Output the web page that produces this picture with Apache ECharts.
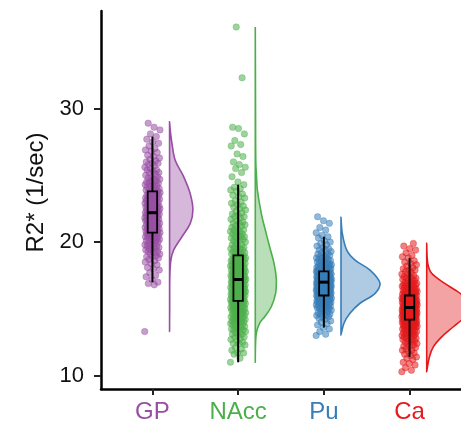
<!DOCTYPE html>
<html>
<head>
<meta charset="utf-8">
<script src="https://cdn.jsdelivr.net/npm/echarts@6/dist/echarts.min.js"></script>
<style>
html, body { margin: 0; padding: 0; background: #fff; }
#main { width: 461px; height: 427px; }
</style>
</head>
<body>
<div id="main"></div>
<script>
// regions on the x axis
const regions = ['GP', 'NAcc', 'Pu', 'Ca'];
const yTicks = [10, 20, 30];

// individual R2* values (1/sec) per region
const gpPoints = [
  13.3, 16.8, 16.9, 17.0, 17.2, 17.4, 17.5, 17.7, 17.9, 18.0, 18.1, 18.3, 18.4,
  18.5, 18.6, 18.7, 18.8, 18.9, 18.9, 19.0, 19.1, 19.1, 19.2, 19.3, 19.3, 19.4, 19.4,
  19.5, 19.5, 19.6, 19.6, 19.7, 19.7, 19.8, 19.8, 19.9, 19.9,
  20.0, 20.0, 20.1, 20.1, 20.2, 20.2, 20.2, 20.3, 20.3, 20.4, 20.4, 20.4,
  20.5, 20.5, 20.5, 20.6, 20.6, 20.6, 20.7, 20.7, 20.7, 20.8, 20.8, 20.8, 20.9, 20.9,
  21.0, 21.0, 21.0, 21.1, 21.1, 21.1, 21.2, 21.2, 21.2, 21.3, 21.3, 21.3, 21.4, 21.4, 21.4,
  21.5, 21.5, 21.5, 21.6, 21.6, 21.6, 21.7, 21.7, 21.7, 21.7, 21.8, 21.8, 21.8, 21.9, 21.9, 21.9,
  22.0, 22.0, 22.0, 22.1, 22.1, 22.1, 22.2, 22.2, 22.2, 22.2, 22.3, 22.3, 22.3, 22.4, 22.4, 22.4,
  22.5, 22.5, 22.5, 22.6, 22.6, 22.6, 22.7, 22.7, 22.7, 22.8, 22.8, 22.8, 22.9, 22.9, 22.9,
  23.0, 23.0, 23.0, 23.1, 23.1, 23.1, 23.2, 23.2, 23.2, 23.3, 23.3, 23.3, 23.4, 23.4,
  23.5, 23.5, 23.5, 23.6, 23.6, 23.7, 23.7, 23.7, 23.8, 23.8, 23.9, 23.9,
  24.0, 24.0, 24.1, 24.1, 24.2, 24.2, 24.3, 24.3, 24.4, 24.4,
  24.5, 24.5, 24.6, 24.6, 24.7, 24.7, 24.8, 24.9, 24.9,
  25.0, 25.1, 25.2, 25.2, 25.3, 25.4, 25.4, 25.5, 25.6, 25.7, 25.8, 25.9, 25.9,
  26.0, 26.1, 26.2, 26.3, 26.4, 26.5, 26.7, 26.8, 26.9,
  27.0, 27.2, 27.4, 27.5, 27.7, 27.9, 28.1, 28.4, 28.6, 28.9
];
const naccPoints = [
  11.0, 11.3, 11.6, 11.7, 11.7, 11.9, 12.0, 12.1, 12.3, 12.4, 12.4,
  12.5, 12.6, 12.7, 12.8, 12.9, 12.9, 13.0, 13.1, 13.1, 13.2, 13.3, 13.3, 13.4, 13.4,
  13.5, 13.5, 13.6, 13.6, 13.7, 13.7, 13.8, 13.8, 13.9, 13.9,
  14.0, 14.0, 14.0, 14.1, 14.1, 14.1, 14.2, 14.2, 14.2, 14.3, 14.3, 14.4, 14.4,
  14.5, 14.5, 14.5, 14.6, 14.6, 14.6, 14.7, 14.7, 14.7, 14.8, 14.8, 14.8, 14.9, 14.9, 14.9,
  15.0, 15.0, 15.0, 15.1, 15.1, 15.1, 15.2, 15.2, 15.2, 15.2, 15.3, 15.3, 15.3, 15.4, 15.4, 15.4,
  15.5, 15.5, 15.5, 15.5, 15.6, 15.6, 15.6, 15.6, 15.7, 15.7, 15.7, 15.8, 15.8, 15.8, 15.8, 15.9, 15.9, 15.9,
  16.0, 16.0, 16.0, 16.0, 16.1, 16.1, 16.1, 16.1, 16.2, 16.2, 16.2, 16.2, 16.3, 16.3, 16.3, 16.3, 16.4, 16.4, 16.4,
  16.5, 16.5, 16.5, 16.5, 16.6, 16.6, 16.6, 16.6, 16.7, 16.7, 16.7, 16.7, 16.8, 16.8, 16.8, 16.8, 16.9, 16.9, 16.9,
  17.0, 17.0, 17.0, 17.0, 17.1, 17.1, 17.1, 17.1, 17.2, 17.2, 17.2, 17.2, 17.3, 17.3, 17.3, 17.3, 17.4, 17.4, 17.4,
  17.5, 17.5, 17.5, 17.5, 17.6, 17.6, 17.6, 17.6, 17.7, 17.7, 17.7, 17.8, 17.8, 17.8, 17.8, 17.9, 17.9, 17.9,
  18.0, 18.0, 18.0, 18.1, 18.1, 18.1, 18.2, 18.2, 18.2, 18.2, 18.3, 18.3, 18.3, 18.4, 18.4, 18.4,
  18.5, 18.5, 18.5, 18.6, 18.6, 18.6, 18.7, 18.7, 18.7, 18.8, 18.8, 18.8, 18.9, 18.9,
  19.0, 19.0, 19.1, 19.1, 19.2, 19.2, 19.3, 19.3, 19.4, 19.4,
  19.5, 19.5, 19.6, 19.6, 19.7, 19.8, 19.8, 19.9,
  20.0, 20.1, 20.1, 20.2, 20.2, 20.3, 20.4, 20.4, 20.4,
  20.5, 20.6, 20.6, 20.7, 20.8, 20.8, 20.9, 20.9,
  21.0, 21.1, 21.2, 21.2, 21.3, 21.4, 21.4, 21.5, 21.6, 21.7, 21.8, 21.9, 21.9,
  22.0, 22.1, 22.2, 22.3, 22.4, 22.5, 22.6, 22.7, 22.8, 22.9,
  23.0, 23.1, 23.3, 23.4, 23.5, 23.6, 23.8, 23.9, 24.0, 24.1, 24.3,
  24.5, 24.9, 25.2, 25.5, 25.6, 25.8, 26.0, 26.4, 26.6, 27.2, 27.3, 27.6,
  28.1, 28.5, 28.6, 32.3, 36.1
];
const puPoints = [
  13.0, 13.1, 13.3, 13.5, 13.6, 13.8, 13.9, 14.0, 14.1, 14.2, 14.3, 14.4, 14.4,
  14.5, 14.5, 14.6, 14.6, 14.7, 14.7, 14.8, 14.8, 14.9, 14.9,
  15.0, 15.0, 15.0, 15.1, 15.1, 15.1, 15.2, 15.2, 15.2, 15.2, 15.3, 15.3, 15.3, 15.4, 15.4, 15.4,
  15.5, 15.5, 15.5, 15.5, 15.5, 15.6, 15.6, 15.6, 15.6, 15.6, 15.7, 15.7, 15.7, 15.7, 15.7,
  15.8, 15.8, 15.8, 15.8, 15.8, 15.9, 15.9, 15.9, 15.9,
  16.0, 16.0, 16.0, 16.0, 16.0, 16.0, 16.1, 16.1, 16.1, 16.1, 16.1, 16.1,
  16.2, 16.2, 16.2, 16.2, 16.2, 16.2, 16.3, 16.3, 16.3, 16.3, 16.3, 16.3,
  16.4, 16.4, 16.4, 16.4, 16.4, 16.4,
  16.5, 16.5, 16.5, 16.5, 16.5, 16.5, 16.5, 16.6, 16.6, 16.6, 16.6, 16.6, 16.6, 16.6,
  16.7, 16.7, 16.7, 16.7, 16.7, 16.7, 16.7, 16.8, 16.8, 16.8, 16.8, 16.8, 16.8, 16.8,
  16.9, 16.9, 16.9, 16.9, 16.9, 16.9,
  17.0, 17.0, 17.0, 17.0, 17.0, 17.0, 17.0, 17.1, 17.1, 17.1, 17.1, 17.1, 17.1, 17.1,
  17.2, 17.2, 17.2, 17.2, 17.2, 17.2, 17.3, 17.3, 17.3, 17.3, 17.3, 17.3,
  17.4, 17.4, 17.4, 17.4, 17.4, 17.4,
  17.5, 17.5, 17.5, 17.5, 17.5, 17.5, 17.6, 17.6, 17.6, 17.6, 17.6,
  17.7, 17.7, 17.7, 17.7, 17.7, 17.8, 17.8, 17.8, 17.8, 17.8, 17.9, 17.9, 17.9, 17.9, 17.9,
  18.0, 18.0, 18.0, 18.0, 18.1, 18.1, 18.1, 18.1, 18.2, 18.2, 18.2, 18.2, 18.3, 18.3, 18.3, 18.4, 18.4, 18.4,
  18.5, 18.5, 18.5, 18.6, 18.6, 18.6, 18.7, 18.7, 18.8, 18.8, 18.9, 18.9,
  19.0, 19.0, 19.1, 19.1, 19.2, 19.3, 19.4, 19.4, 19.5, 19.6, 19.7, 19.8, 19.9,
  20.0, 20.1, 20.3, 20.4, 20.5, 20.7, 20.9, 21.1, 21.4, 21.6, 21.9
];
const caPoints = [
  10.3, 10.4, 10.6, 10.8, 10.9, 11.0, 11.2, 11.3, 11.4,
  11.5, 11.6, 11.7, 11.8, 11.9, 11.9, 12.0, 12.1, 12.2, 12.2, 12.3, 12.4, 12.4,
  12.5, 12.5, 12.6, 12.6, 12.7, 12.7, 12.8, 12.8, 12.9, 12.9,
  13.0, 13.0, 13.0, 13.1, 13.1, 13.1, 13.2, 13.2, 13.2, 13.3, 13.3, 13.3, 13.4, 13.4,
  13.5, 13.5, 13.5, 13.5, 13.6, 13.6, 13.6, 13.6, 13.7, 13.7, 13.7, 13.7,
  13.8, 13.8, 13.8, 13.8, 13.9, 13.9, 13.9, 13.9,
  14.0, 14.0, 14.0, 14.0, 14.0, 14.0, 14.1, 14.1, 14.1, 14.1, 14.1, 14.1,
  14.2, 14.2, 14.2, 14.2, 14.2, 14.2, 14.3, 14.3, 14.3, 14.3, 14.3, 14.4, 14.4, 14.4, 14.4, 14.4,
  14.5, 14.5, 14.5, 14.5, 14.5, 14.5, 14.5, 14.6, 14.6, 14.6, 14.6, 14.6, 14.6,
  14.7, 14.7, 14.7, 14.7, 14.7, 14.7, 14.8, 14.8, 14.8, 14.8, 14.8, 14.8,
  14.9, 14.9, 14.9, 14.9, 14.9, 14.9,
  15.0, 15.0, 15.0, 15.0, 15.0, 15.0, 15.0, 15.1, 15.1, 15.1, 15.1, 15.1, 15.1,
  15.2, 15.2, 15.2, 15.2, 15.2, 15.2, 15.3, 15.3, 15.3, 15.3, 15.3, 15.3,
  15.4, 15.4, 15.4, 15.4, 15.4, 15.4,
  15.5, 15.5, 15.5, 15.5, 15.5, 15.5, 15.6, 15.6, 15.6, 15.6, 15.6, 15.6,
  15.7, 15.7, 15.7, 15.7, 15.7, 15.7, 15.8, 15.8, 15.8, 15.8, 15.8, 15.9, 15.9, 15.9, 15.9, 15.9,
  16.0, 16.0, 16.0, 16.0, 16.0, 16.1, 16.1, 16.1, 16.1, 16.1, 16.2, 16.2, 16.2, 16.2,
  16.3, 16.3, 16.3, 16.3, 16.4, 16.4, 16.4, 16.4,
  16.5, 16.5, 16.5, 16.6, 16.6, 16.6, 16.7, 16.7, 16.7, 16.8, 16.8, 16.8, 16.9, 16.9, 16.9,
  17.0, 17.0, 17.1, 17.1, 17.2, 17.2, 17.3, 17.3, 17.4, 17.4,
  17.5, 17.6, 17.6, 17.7, 17.8, 17.9, 17.9, 18.0, 18.1, 18.2, 18.3, 18.4,
  18.5, 18.6, 18.8, 18.9, 19.0, 19.2, 19.4, 19.5, 19.7, 19.9
];

// box stats [lower whisker, Q1, median, Q3, upper whisker]
const boxGP = [17.0, 20.7, 22.2, 23.8, 27.9];
const boxNAcc = [11.0, 15.6, 17.2, 19.0, 24.3];
const boxPu = [13.6, 16.0, 17.0, 17.8, 20.4];
const boxCa = [11.4, 14.2, 15.1, 16.0, 18.8];

// half violin densities [value, density]
const densGP = [[29.0, 0], [28.3, 0.006], [27.4, 0.018], [26.1, 0.044], [24.9, 0.108], [23.6, 0.159],
  [22.4, 0.179], [21.4, 0.159], [20.4, 0.095], [19.4, 0.031], [18.65, 0.01], [17.4, 0.002], [15.0, 0.001], [13.3, 0]];
const densNAcc = [[36.1, 0], [30.0, 0.002], [26.0, 0.004], [24.8, 0.01], [23.9, 0.016], [22.15, 0.046],
  [20.9, 0.077], [19.65, 0.11], [18.4, 0.144], [17.16, 0.162], [16.16, 0.156], [15.16, 0.123],
  [14.41, 0.072], [13.92, 0.033], [13.17, 0.008], [12.0, 0.001], [11.0, 0]];
const densPu = [[21.85, 0], [20.65, 0.01], [19.4, 0.044], [18.65, 0.108], [17.9, 0.223], [16.91, 0.3],
  [16.16, 0.262], [15.42, 0.146], [14.67, 0.069], [13.92, 0.023], [13.04, 0]];
const densCa = [[19.9, 0], [18.4, 0.008], [17.66, 0.038], [16.91, 0.138], [16.41, 0.218], [16.0, 0.275],
  [15.2, 0.325], [14.4, 0.29], [13.66, 0.205], [12.9, 0.115], [12.17, 0.052], [11.42, 0.021], [10.3, 0]];

const points = [gpPoints, naccPoints, puPoints, caPoints];
const boxes = [boxGP, boxNAcc, boxPu, boxCa];
const dens = [densGP, densNAcc, densPu, densCa];

// style
const colors = ['#984ea3', '#4daf4a', '#377eb8', '#e41a1c'];
const fills = ['rgba(152,78,163,0.4)', 'rgba(77,175,74,0.4)', 'rgba(55,126,184,0.4)', 'rgba(228,26,28,0.4)'];
const font = 'Liberation Sans, Arial, Helvetica, sans-serif';
const jitterHalf = 0.09;
const boxHalf = 0.055;
const violinOffset = 0.2;
const violinScale = 1.52;

let chart = echarts.init(document.getElementById('main'), null, { renderer: 'canvas' });

let scatterSeries = points.map((vals, gi) => ({
  type: 'scatter',
  data: vals.map((v, i) => [gi + 1 + (((i * 0.6180339887) % 1) - 0.5) * 2 * jitterHalf, v]),
  symbolSize: 6.5,
  itemStyle: { color: colors[gi], opacity: 0.55, borderColor: colors[gi], borderWidth: 0.6 },
  silent: true,
  z: 2
}));

function violinItem(params, api) {
  let gi = api.value(0) - 1;
  let base = gi + 1 + violinOffset;
  let pts = dens[gi].map(d => api.coord([base + d[1] * violinScale, d[0]]));
  let xs = pts.map(p => p[0]), ys = pts.map(p => p[1]);
  return {
    type: 'polygon',
    shape: {
      points: pts,
      smooth: 0.35,
      smoothConstraint: [[Math.min(...xs), Math.min(...ys)], [Math.max(...xs), Math.max(...ys)]]
    },
    style: { fill: fills[gi], stroke: colors[gi], lineWidth: 1.6 }
  };
}

function boxItem(params, api) {
  let gi = api.value(0) - 1;
  let s = boxes[gi];
  let x = gi + 1;
  let top = api.coord([x, s[4]]), bot = api.coord([x, s[0]]);
  let q3 = api.coord([x - boxHalf, s[3]]), q1 = api.coord([x + boxHalf, s[1]]);
  let mL = api.coord([x - boxHalf, s[2]]), mR = api.coord([x + boxHalf, s[2]]);
  return {
    type: 'group',
    children: [
      { type: 'line', shape: { x1: top[0], y1: top[1], x2: bot[0], y2: bot[1] }, style: { stroke: '#000', lineWidth: 2 } },
      { type: 'rect', shape: { x: q3[0], y: q3[1], width: q1[0] - q3[0], height: q1[1] - q3[1] },
        style: { fill: colors[gi], stroke: '#000', lineWidth: 1.8 } },
      { type: 'line', shape: { x1: mL[0], y1: mL[1], x2: mR[0], y2: mR[1] }, style: { stroke: '#000', lineWidth: 3 } }
    ]
  };
}

let options = {
  animation: false,
  grid: { left: 101, right: 0, top: 11, bottom: 38 },
  xAxis: {
    type: 'value',
    min: 0.4,
    max: 4.6,
    splitLine: { show: false },
    axisLine: { lineStyle: { color: '#000', width: 2.5 } },
    axisTick: { customValues: [1, 2, 3, 4], length: 6, lineStyle: { color: '#222', width: 2 } },
    axisLabel: {
      customValues: [1, 2, 3, 4],
      margin: 11,
      formatter: v => '{c' + (v - 1) + '|' + regions[v - 1] + '}',
      rich: {
        c0: { color: colors[0], fontSize: 24, fontFamily: font },
        c1: { color: colors[1], fontSize: 24, fontFamily: font },
        c2: { color: colors[2], fontSize: 24, fontFamily: font },
        c3: { color: colors[3], fontSize: 24, fontFamily: font }
      }
    }
  },
  yAxis: {
    type: 'value',
    min: 9,
    max: 37.3,
    name: 'R2* (1/sec)',
    nameLocation: 'middle',
    nameRotate: 90,
    nameGap: 50,
    nameTextStyle: { fontSize: 24, color: '#111', fontFamily: font, padding: [0, 0, 0, 15] },
    splitLine: { show: false },
    axisLine: { show: true, lineStyle: { color: '#000', width: 2.5 } },
    axisTick: { show: true, customValues: yTicks, length: 7, lineStyle: { color: '#222', width: 2 } },
    axisLabel: { customValues: yTicks, margin: 17, fontSize: 22, color: '#111', fontFamily: font }
  },
  series: scatterSeries.concat([
    {
      type: 'custom',
      renderItem: violinItem,
      data: regions.map((r, i) => [i + 1, boxes[i][2]]),
      silent: true,
      z: 3
    },
    {
      type: 'custom',
      renderItem: boxItem,
      data: regions.map((r, i) => [i + 1, boxes[i][2]]),
      silent: true,
      z: 4
    }
  ])
};

options && chart.setOption(options);
</script>
</body>
</html>
